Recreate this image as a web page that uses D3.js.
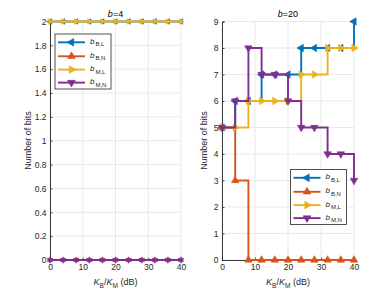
<!DOCTYPE html>
<html><head><meta charset="utf-8">
<script src="https://cdn.jsdelivr.net/npm/d3@7"></script>
<style>
html,body{margin:0;padding:0;background:#fff;}
svg{display:block;font-family:"Liberation Sans",Arial,sans-serif;}
</style></head>
<body><svg id="c" width="390" height="293"></svg>
<script>
// ---- data ----
const kbkm = [0, 4, 8, 12, 16, 20, 24, 28, 32, 36, 40];
// b = 4
const b4_BL = [2, 2, 2, 2, 2, 2, 2, 2, 2, 2, 2];
const b4_BN = [0, 0, 0, 0, 0, 0, 0, 0, 0, 0, 0];
const b4_ML = [2, 2, 2, 2, 2, 2, 2, 2, 2, 2, 2];
const b4_MN = [0, 0, 0, 0, 0, 0, 0, 0, 0, 0, 0];
// b = 20
const b20_BL = [5, 6, 6, 7, 7, 7, 8, 8, 8, 8, 9];
const b20_BN = [5, 3, 0, 0, 0, 0, 0, 0, 0, 0, 0];
const b20_ML = [5, 5, 6, 6, 6, 6, 7, 7, 8, 8, 8];
const b20_MN = [5, 6, 8, 7, 7, 6, 5, 5, 4, 4, 3];
const xTicks = [0, 10, 20, 30, 40];
const yTicksLeft = [0, 0.2, 0.4, 0.6, 0.8, 1, 1.2, 1.4, 1.6, 1.8, 2];
const yTickLabelsLeft = ["0", "0.2", "0.4", "0.6", "0.8", "1", "1.2", "1.4", "1.6", "1.8", "2"];
const yTicksRight = [0, 1, 2, 3, 4, 5, 6, 7, 8, 9];
const seriesNames = ["B,L", "B,N", "M,L", "M,N"];
const seriesColors = ["#0072BD", "#D95319", "#EDB120", "#7E2F8E"];
const seriesMarkers = [-90, 0, 90, 180]; // triangle rotation

const svg = d3.select("#c");
const AX = "#262626", GRID = "#e3e3e3";

function tri(area) { return d3.symbol().type(d3.symbolTriangle).size(area)(); }

function panel(o) {
  const x = d3.scaleLinear().domain([0, 40]).range([o.x0, o.x1]);
  const y = d3.scaleLinear().domain(o.ydom).range([260, 21.5]);
  const g = svg.append("g");
  // grid
  g.selectAll(".gx").data(xTicks).join("line")
    .attr("x1", d => x(d)).attr("x2", d => x(d)).attr("y1", y.range()[0]).attr("y2", y.range()[1])
    .attr("stroke", GRID).attr("stroke-width", 0.8);
  g.selectAll(".gy").data(o.yticks).join("line")
    .attr("x1", o.x0).attr("x2", o.x1).attr("y1", d => y(d)).attr("y2", d => y(d))
    .attr("stroke", GRID).attr("stroke-width", 0.8);
  // axes
  const ax = g.append("g").attr("transform", "translate(0,260)")
    .call(d3.axisBottom(x).tickValues(xTicks).tickSize(-2.5).tickPadding(4).tickFormat(d3.format("d")));
  const ay = g.append("g").attr("transform", `translate(${o.x0},0)`)
    .call(d3.axisLeft(y).tickValues(o.yticks).tickSize(-2.5).tickPadding(3.5)
      .tickFormat((d, i) => o.ylabels[i]));
  [ax, ay].forEach(a => {
    a.select(".domain").attr("stroke", AX).attr("stroke-width", 0.9);
    a.selectAll(".tick line").attr("stroke", AX).attr("stroke-width", 0.8);
    a.selectAll(".tick text").attr("fill", AX).style("font-size", "8.5px").attr("font-family", "Liberation Sans, Arial, sans-serif");
  });
  // series
  const line = d3.line().x((d, i) => x(kbkm[i])).y(d => y(d)).curve(d3.curveStepAfter);
  o.series.forEach((s, k) => {
    g.append("path").attr("d", line(s)).attr("fill", "none")
      .attr("stroke", seriesColors[k]).attr("stroke-width", 1.9).attr("stroke-linejoin", "miter");
    g.selectAll(null).data(s).join("path")
      .attr("d", tri(o.msize))
      .attr("transform", (d, i) => `translate(${x(kbkm[i])},${y(d)}) rotate(${seriesMarkers[k]})`)
      .attr("fill", seriesColors[k]).attr("stroke", seriesColors[k]).attr("stroke-width", 0.6);
  });
  // title
  const t = g.append("text").attr("x", (o.x0 + o.x1) / 2).attr("y", 16.5)
    .attr("text-anchor", "middle").style("font-size", "9px").attr("fill", "#000");
  t.append("tspan").attr("font-style", "italic").text("b");
  t.append("tspan").text("=" + o.bval);
  // y label
  g.append("text").attr("transform", `translate(${o.ylx},140.5) rotate(-90)`)
    .attr("text-anchor", "middle").style("font-size", "9px").attr("fill", AX).text("Number of bits");
  // x label
  const xl = g.append("text").attr("x", (o.x0 + o.x1) / 2).attr("y", 284.5)
    .attr("text-anchor", "middle").style("font-size", "9px").attr("fill", AX);
  xl.append("tspan").attr("font-style", "italic").text("K");
  xl.append("tspan").attr("dy", 3).style("font-size", "6.5px").text("B");
  xl.append("tspan").attr("dy", -3).text("/");
  xl.append("tspan").attr("font-style", "italic").text("K");
  xl.append("tspan").attr("dy", 3).style("font-size", "6.5px").text("M");
  xl.append("tspan").attr("dy", -3).text(" (dB)");
  // legend
  const lg = g.append("g").attr("transform", `translate(${o.lx},${o.ly})`);
  lg.append("rect").attr("x", 0).attr("y", 0).attr("width", 56).attr("height", 55)
    .attr("fill", "#fff").attr("stroke", AX).attr("stroke-width", 0.8);
  const rowY = [8.3, 22.3, 35.6, 48.6];
  seriesNames.forEach((nm, k) => {
    const yy = rowY[k];
    lg.append("line").attr("x1", 3).attr("x2", 30).attr("y1", yy).attr("y2", yy)
      .attr("stroke", seriesColors[k]).attr("stroke-width", 1.9);
    lg.append("path").attr("d", tri(26)).attr("transform", `translate(16.5,${yy}) rotate(${seriesMarkers[k]})`)
      .attr("fill", seriesColors[k]).attr("stroke", seriesColors[k]).attr("stroke-width", 0.6);
    const tx = lg.append("text").attr("x", 35).attr("y", yy + 1.5).style("font-size", "8px").attr("fill", AX);
    tx.append("tspan").attr("font-style", "italic").text("b");
    tx.append("tspan").attr("dx", 1).attr("dy", 2.5).style("font-size", "6px").text(nm);
  });
}

panel({ x0: 50, x1: 181, ydom: [0, 2], yticks: yTicksLeft, ylabels: yTickLabelsLeft,
  series: [b4_BL, b4_BN, b4_ML, b4_MN], msize: 14, bval: "4", ylx: 31, lx: 55, ly: 34 });
panel({ x0: 222, x1: 354, ydom: [0, 9], yticks: yTicksRight, ylabels: yTicksRight.map(String),
  series: [b20_BL, b20_BN, b20_ML, b20_MN], msize: 24, bval: "20", ylx: 207, lx: 290.5, ly: 169.5 });
</script></body></html>
